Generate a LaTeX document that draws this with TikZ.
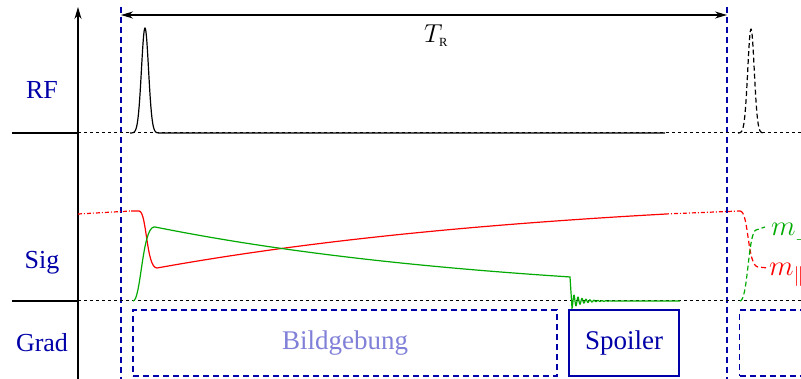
\documentclass[tikz,border=0pt]{standalone}
\usepackage{fontspec}
\setmainfont{Liberation Serif}
\usepackage{graphicx}
\usepackage{xcolor}
\definecolor{cBlue}{HTML}{0000A8}
\definecolor{cLight}{HTML}{8080D8}
\definecolor{cRed}{HTML}{FF0000}
\definecolor{cGreen}{HTML}{00AA00}
\usepackage{tikz}
\usetikzlibrary{positioning,arrows.meta}
\tikzset{
  axis-line/.style={line width=1.2pt,draw=black},
  base-line/.style={line width=1pt,draw=black,dash pattern=on 3pt off 3pt},
  tr-line/.style={line width=1.1pt,draw=cBlue,dash pattern=on 6pt off 4pt},
  tr-arrow/.style={{Stealth[length=12pt,width=7pt]}-{Stealth[length=12pt,width=7pt]},line width=1.1pt},
  row-label/.style={text=cBlue,font=\fontsize{26}{30}\selectfont,anchor=base},
  math-label/.style={anchor=base west,inner sep=0pt,font=\fontsize{20}{24}\selectfont},
  grad-box/.style={draw=cBlue,line width=1.1pt,minimum height=66pt,inner sep=0pt,
    font=\fontsize{27}{30}\selectfont},
  grad-dashed/.style={grad-box,dash pattern=on 6pt off 4pt},
  pulse/.style={line width=1.2pt,draw=black},
  sig-par/.style={line width=1.2pt,draw=cRed},
  sig-perp/.style={line width=1.2pt,draw=cGreen},
  % Fortsetzung: gepunktet bzw. gestrichelt
  dashdot-line/.style={dash pattern=on 4pt off 2pt on 1pt off 2pt},
  next-line/.style={dash pattern=on 5pt off 3pt},
}

\begin{document}
\begin{tikzpicture}[x=1pt,y=-1pt]
  \useasboundingbox (0,0) rectangle (801,379);

  % Achse und Zeitmarken
  \coordinate (ax-bot) at (78,379);
  \coordinate (ax-top) at (78,7);
  \coordinate (tr-a-top) at (121,7);
  \coordinate (tr-a-bot) at (121,379);
  \coordinate (tr-b-top) at (727,7);
  \coordinate (tr-b-bot) at (727,379);
  \draw[tr-line] (tr-a-top) -- (tr-a-bot);
  \draw[tr-line] (tr-b-top) -- (tr-b-bot);
  \draw[axis-line,-{Stealth[length=12pt,width=7pt]}] (ax-bot) -- (ax-top);

  \coordinate (tr-a) at (121,15);
  \coordinate (tr-b) at (727,15);
  \draw[tr-arrow] (tr-a) -- (tr-b);
  \node[math-label] (tr-label) at (424,43)
    {\scalebox{1.25}{$T_{\scriptscriptstyle\mathrm{R}}$}};

  % RF
  \node[row-label] (rf-label) at (42,99) {RF};
  \coordinate (rf-0) at (12,133);
  \coordinate (rf-ax) at (78,133);
  \coordinate (rf-end) at (801,133);
  \coordinate (rf-stop) at (665,133);
  \draw[axis-line] (rf-0) -- (rf-ax);
  \draw[base-line] (rf-ax) -- (rf-end);
  \draw[pulse] plot[domain=-15:15,samples=60] ({145+\x},{133-105*exp(-(\x/5)^2)})
    -- (rf-stop);
  \draw[pulse,next-line] plot[domain=-13:13,samples=60] ({751+\x},{133-104*exp(-(\x/4.6)^2)});

  % Signal
  \node[row-label] (sig-label) at (42,269) {Sig};
  \coordinate (sig-0) at (12,301);
  \coordinate (sig-ax) at (78,301);
  \coordinate (sig-end) at (801,301);
  \draw[axis-line] (sig-0) -- (sig-ax);
  \draw[base-line] (sig-ax) -- (sig-end);

  \coordinate (par-0) at (78,214);
  \coordinate (par-1) at (131,211);
  \coordinate (par-2) at (665,214);
  \coordinate (par-3) at (740,211);
  \draw[sig-par,dashdot-line] (par-0) -- (par-1);
  \draw[sig-par] (par-1) -- (139,211) .. controls (147,211) and (146,268) .. (157,268)
    -- plot[domain=157:665,samples=60] (\x,{190+78*exp(-(\x-157)/432)});
  \draw[sig-par,dashdot-line] (par-2) -- (par-3);
  \draw[sig-par,next-line] (par-3) .. controls (749,211) and (747,266) .. (758,267) -- (768,268);

  \draw[sig-perp] (133,301) .. controls (141,301) and (142,228) .. (154,227)
    -- plot[domain=155:570,samples=60] (\x,{301-74*exp(-(\x-155)/369)})
    -- plot[domain=0:50,samples=250] ({572+\x},{301+7*exp(-\x/10)*cos(\x*90)})
    -- (680,301);
  \draw[sig-perp,next-line] (740,301) .. controls (748,301) and (748,232) .. (756,230) -- (765,227);

  \node[math-label,text=cGreen] (perp-label) at (771,236) {\scalebox{1.38}{$m_\perp$}};
  \node[math-label,text=cRed] (par-label) at (769,276) {\scalebox{1.38}{$m_\parallel$}};

  % Gradienten
  \node[row-label] (grad-label) at (42,352) {Grad};
  \node[grad-dashed,minimum width=424pt,text=cLight] (bild) at (345,343) {Bildgebung};
  \node[grad-box,minimum width=110pt,text=cBlue] (spoil) at (624,343) {Spoiler};
  \node[grad-dashed,minimum width=90pt,anchor=west] (bild-next) at (739,343) {};
\end{tikzpicture}
\end{document}
